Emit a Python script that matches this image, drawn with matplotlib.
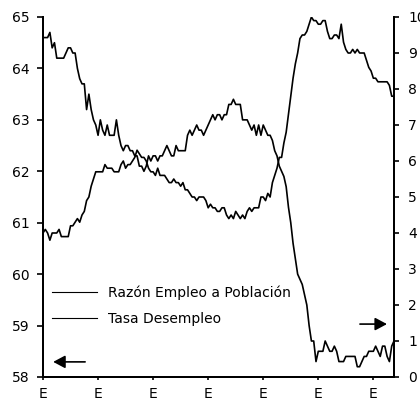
import matplotlib
matplotlib.use("Agg")
import matplotlib.pyplot as plt
from matplotlib.lines import Line2D

# Datos mensuales, enero 2000 a octubre 2012
razon_empleo = [
    64.6, 64.6, 64.6, 64.7, 64.4, 64.5, 64.2, 64.2, 64.2, 64.2, 64.3, 64.4,
    64.4, 64.3, 64.3, 64.0, 63.8, 63.7, 63.7, 63.2, 63.5, 63.2, 63.0, 62.9,
    62.7, 63.0, 62.8, 62.7, 62.9, 62.7, 62.7, 62.7, 63.0, 62.7, 62.5, 62.4,
    62.5, 62.5, 62.4, 62.4, 62.3, 62.3, 62.1, 62.1, 62.0, 62.1, 62.3, 62.2,
    62.3, 62.3, 62.2, 62.3, 62.3, 62.4, 62.5, 62.4, 62.3, 62.3, 62.5, 62.4,
    62.4, 62.4, 62.4, 62.7, 62.8, 62.7, 62.8, 62.9, 62.8, 62.8, 62.7, 62.8,
    62.9, 63.0, 63.1, 63.0, 63.1, 63.1, 63.0, 63.1, 63.1, 63.3, 63.3, 63.4,
    63.3, 63.3, 63.3, 63.0, 63.0, 63.0, 62.9, 62.8, 62.9, 62.7, 62.9, 62.7,
    62.9, 62.8, 62.7, 62.7, 62.6, 62.4, 62.3, 62.1, 62.0, 61.9, 61.7, 61.3,
    61.0, 60.6, 60.3, 60.0, 59.9, 59.8, 59.6, 59.4, 59.0, 58.7, 58.7, 58.3,
    58.5, 58.5, 58.5, 58.7, 58.6, 58.5, 58.5, 58.6, 58.5, 58.3, 58.3, 58.3,
    58.4, 58.4, 58.4, 58.4, 58.4, 58.2, 58.2, 58.3, 58.4, 58.4, 58.5, 58.5,
    58.5, 58.6, 58.5, 58.4, 58.6, 58.6, 58.4, 58.3, 58.6, 58.7,
]
tasa_desempleo = [
    4.0, 4.1, 4.0, 3.8, 4.0, 4.0, 4.0, 4.1, 3.9, 3.9, 3.9, 3.9,
    4.2, 4.2, 4.3, 4.4, 4.3, 4.5, 4.6, 4.9, 5.0, 5.3, 5.5, 5.7,
    5.7, 5.7, 5.7, 5.9, 5.8, 5.8, 5.8, 5.7, 5.7, 5.7, 5.9, 6.0,
    5.8, 5.9, 5.9, 6.0, 6.1, 6.3, 6.2, 6.1, 6.1, 6.0, 5.8, 5.7,
    5.7, 5.6, 5.8, 5.6, 5.6, 5.6, 5.5, 5.4, 5.4, 5.5, 5.4, 5.4,
    5.3, 5.4, 5.2, 5.2, 5.1, 5.0, 5.0, 4.9, 5.0, 5.0, 5.0, 4.9,
    4.7, 4.8, 4.7, 4.7, 4.6, 4.6, 4.7, 4.7, 4.5, 4.4, 4.5, 4.4,
    4.6, 4.5, 4.4, 4.5, 4.4, 4.6, 4.7, 4.6, 4.7, 4.7, 4.7, 5.0,
    5.0, 4.9, 5.1, 5.0, 5.4, 5.6, 5.8, 6.1, 6.1, 6.5, 6.8, 7.3,
    7.8, 8.3, 8.7, 9.0, 9.4, 9.5, 9.5, 9.6, 9.8, 10.0, 9.9, 9.9,
    9.8, 9.8, 9.9, 9.9, 9.6, 9.4, 9.4, 9.5, 9.5, 9.4, 9.8, 9.3,
    9.1, 9.0, 9.0, 9.1, 9.0, 9.1, 9.0, 9.0, 9.0, 8.8, 8.6, 8.5,
    8.3, 8.3, 8.2, 8.2, 8.2, 8.2, 8.2, 8.1, 7.8, 7.8,
]
etiquetas_x = ["E", "E", "E", "E", "E", "E", "E"]
ticks_izq = [58, 59, 60, 61, 62, 63, 64, 65]
ticks_der = [0, 1, 2, 3, 4, 5, 6, 7, 8, 9, 10]


def main():
    plt.rcParams['font.family'] = ['DejaVu Sans']
    plt.rcParams['font.size'] = 10

    meses = list(range(len(razon_empleo)))

    fig = plt.figure(figsize=(4.2, 4.01), dpi=100)
    ax = fig.add_axes([43/420, 24/401, 351/420, 360/401])
    ax2 = ax.twinx()

    ax.plot(meses, razon_empleo, color="black", lw=1.2)
    ax2.plot(meses, tasa_desempleo, color="black", lw=1.2)

    ax.set_xlim(0, len(meses) - 1)
    ax.set_ylim(58, 65)
    ax2.set_ylim(0, 10)
    ax.set_xticks(range(0, len(meses), 24))
    ax.set_xticklabels(etiquetas_x)
    ax.set_yticks(ticks_izq)
    ax2.set_yticks(ticks_der)

    for a in (ax, ax2):
        a.spines["top"].set_visible(False)
        for s in ("left", "right", "bottom"):
            a.spines[s].set_linewidth(1.4)
    ax.tick_params(axis="y", direction="out", length=4.3, width=1.2, pad=5.5)
    ax2.tick_params(axis="y", direction="out", length=3.6, width=1.2, pad=6.5)
    ax.tick_params(axis="x", direction="out", length=2.2, width=1.2, pad=5)

    # Leyenda sin marco
    handles = [Line2D([], [], color="black", lw=0.8),
               Line2D([], [], color="black", lw=0.8)]
    ax2.legend(handles, ["Razón Empleo a Población", "Tasa Desempleo"],
               loc="upper left", bbox_to_anchor=(0.026, 0.255), frameon=False,
               borderpad=0, borderaxespad=0, handlelength=3.2,
               handletextpad=0.8, labelspacing=0.9, fontsize=10)

    # Flechas que indican el eje
    flecha = dict(arrowstyle="-|>,head_length=0.6,head_width=0.32",
                  color="black", lw=1.2, shrinkA=0, shrinkB=0, mutation_scale=12)
    ax2.annotate("", xy=(0.029, 0.042), xytext=(0.12, 0.042),
                 xycoords="axes fraction", arrowprops=flecha)
    ax2.annotate("", xy=(0.98, 0.147), xytext=(0.903, 0.147),
                 xycoords="axes fraction", arrowprops=flecha)

    plt.savefig("out.png", dpi=100)


if __name__ == "__main__":
    main()
